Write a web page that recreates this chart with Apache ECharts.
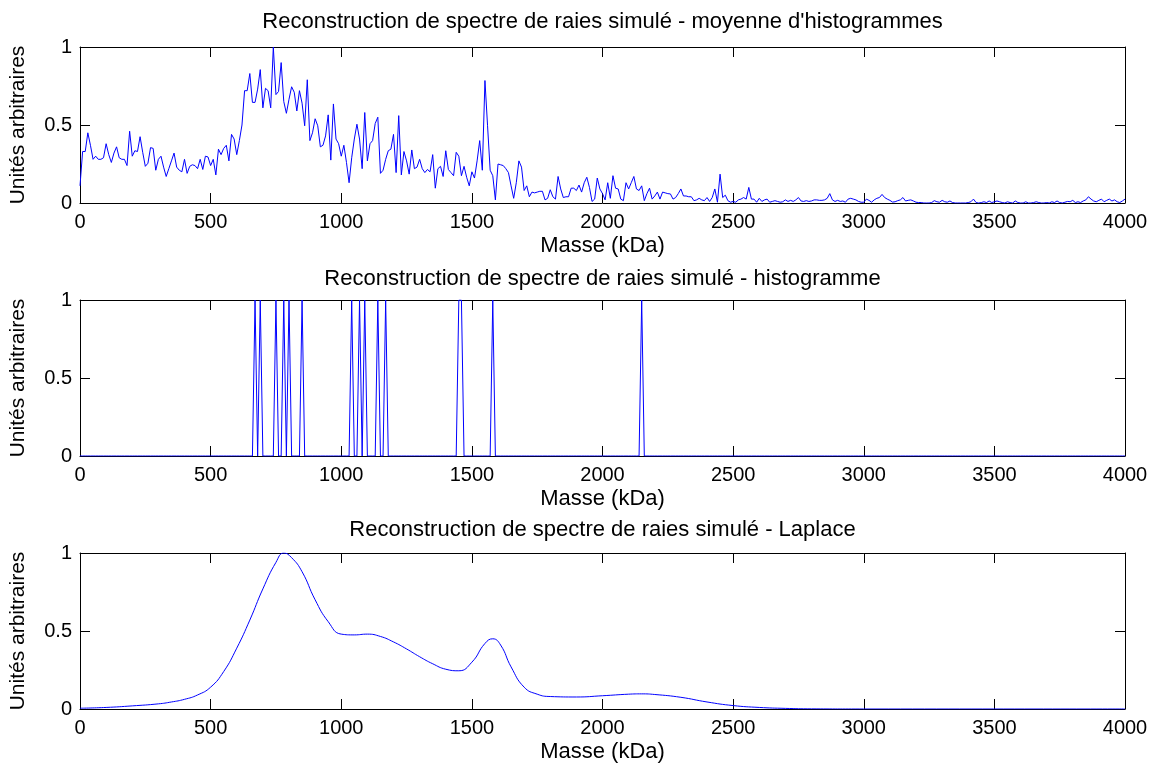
<!DOCTYPE html>
<html><head><meta charset="utf-8">
<script src="https://cdn.jsdelivr.net/npm/echarts@6/dist/echarts.min.js"></script>
<style>html,body{margin:0;padding:0;background:#fff}#c{width:1153px;height:767px}</style>
</head><body><div id="c"></div><script>
// ---- data ----
const panelTitles = [
  "Reconstruction de spectre de raies simulé - moyenne d'histogrammes",
  "Reconstruction de spectre de raies simulé - histogramme",
  "Reconstruction de spectre de raies simulé - Laplace"
];
const xAxisName = "Masse (kDa)";
const yAxisName = "Unités arbitraires";
const massMin = 0, massMax = 4000, massTickStep = 500;
const yTickStep = 0.5;
const histStep = 10; // kDa between histogram bins

// mean of histograms, one value per 10 kDa bin from 0 to 4000
const meanHistValues = [
  0.11,0.33,0.33,0.45,0.37,0.28,0.30,0.28,0.28,0.29,
  0.38,0.31,0.26,0.32,0.36,0.29,0.28,0.28,0.24,0.46,
  0.30,0.335,0.33,0.425,0.325,0.235,0.255,0.355,0.35,0.21,
  0.28,0.30,0.23,0.17,0.22,0.27,0.32,0.23,0.21,0.20,
  0.28,0.19,0.235,0.245,0.24,0.22,0.28,0.215,0.30,0.295,
  0.24,0.28,0.18,0.345,0.31,0.35,0.37,0.27,0.44,0.41,
  0.31,0.40,0.50,0.72,0.72,0.83,0.645,0.645,0.73,0.855,
  0.61,0.735,0.72,0.61,1.0,0.695,0.715,0.90,0.65,0.575,
  0.665,0.745,0.71,0.59,0.72,0.64,0.495,0.79,0.40,0.45,
  0.54,0.495,0.36,0.37,0.43,0.565,0.275,0.635,0.41,0.38,
  0.30,0.37,0.26,0.13,0.29,0.41,0.505,0.41,0.22,0.58,
  0.27,0.38,0.40,0.51,0.55,0.19,0.21,0.28,0.335,0.345,
  0.44,0.195,0.56,0.18,0.33,0.27,0.185,0.34,0.22,0.23,
  0.28,0.22,0.195,0.215,0.20,0.31,0.095,0.22,0.235,0.17,
  0.335,0.215,0.195,0.175,0.325,0.30,0.175,0.235,0.165,0.11,
  0.20,0.16,0.27,0.40,0.21,0.785,0.495,0.21,0.175,0.02,
  0.25,0.245,0.24,0.22,0.195,0.11,0.03,0.13,0.27,0.23,
  0.08,0.11,0.04,0.07,0.065,0.07,0.075,0.075,0.02,0.03,
  0.085,0.04,0.025,0.17,0.09,0.035,0.04,0.04,0.095,0.095,
  0.08,0.115,0.07,0.13,0.165,0.10,0.01,0.025,0.16,0.09,
  0.06,0.02,0.13,0.03,0.175,0.095,0.09,0.025,0.015,0.13,
  0.09,0.13,0.17,0.09,0.08,0.11,0.015,0.06,0.095,0.025,
  0.045,0.07,0.025,0.07,0.065,0.06,0.058,0.025,0.035,0.06,
  0.09,0.045,0.045,0.04,0.04,0.015,0.02,0.03,0.02,0.015,
  0.035,0.01,0.035,0.09,0.005,0.185,0.035,0.05,0.015,0.005,
  0.01,0.005,0.02,0.025,0.035,0.025,0.10,0.025,0.025,0.005,
  0.03,0.01,0.02,0.025,0.005,0.01,0.015,0.01,0.005,0.008,
  0.02,0.01,0.017,0.01,0.02,0.035,0.013,0.01,0.015,0.01,
  0.013,0.02,0.02,0.017,0.017,0.02,0.03,0.06,0.02,0.01,
  0.017,0.01,0.013,0.005,0.025,0.03,0.025,0.02,0.01,0.005,
  0.005,0.025,0.017,0.005,0.02,0.03,0.035,0.055,0.035,0.025,
  0.017,0.006,0.008,0.015,0.02,0.035,0.013,0.017,0.02,0.013,
  0.005,0.003,0.003,0,0,0,0.003,0.015,0.008,0.005,
  0.017,0.008,0.005,0.013,0.003,0,0,0,0,0,
  0.003,0.008,0.025,0.003,0,0.003,0.008,0.003,0.013,0.003,
  0.008,0.013,0.008,0.003,0,0.008,0.003,0,0.013,0.003,
  0,0,0.008,0,0,0.003,0.008,0.003,0,0,
  0.003,0,0.008,0.003,0.013,0.003,0,0.005,0.01,0.008,
  0.017,0.003,0.008,0.003,0.013,0.02,0.04,0.025,0.013,0.008,
  0.017,0.025,0.008,0.017,0.025,0.013,0.02,0.008,0.003,0.013,
  0.025
];

// single histogram: bins (kDa) that reach 1, all others are 0
const spikeMasses = [670,690,750,780,800,850,1040,1070,1090,1140,1170,1450,1460,1580,2150];
const spikeHeight = 1;

// Laplace reconstruction
const laplaceMasses = [
  0,100,200,300,350,400,450,500,550,600,
  650,700,750,780,810,850,900,950,1000,1050,
  1100,1150,1200,1250,1300,1350,1400,1450,1500,1550,
  1580,1610,1650,1700,1750,1800,1900,2000,2100,2150,
  2200,2300,2400,2500,2600,2700,2800,3000,4000];
const laplaceValues = [
  0.005,0.01,0.02,0.033,0.045,0.062,0.09,0.14,0.24,0.39,
  0.57,0.77,0.94,1.0,0.97,0.88,0.70,0.56,0.48,0.475,
  0.48,0.465,0.43,0.385,0.335,0.29,0.255,0.245,0.30,0.42,
  0.45,0.41,0.27,0.14,0.095,0.08,0.077,0.085,0.095,0.097,
  0.093,0.075,0.045,0.022,0.01,0.004,0.001,0,0];

// ---- build ----
const FONT = "'Liberation Sans', Arial, Helvetica, sans-serif";
const FS = 20, FS_TITLE = 22, FS_XNAME = 22, FS_YNAME = 21;
const gridTops = [47, 300, 553];
const titleTops = [11, 268, 519];
const gridH = 156;
const LEFT = 80, RIGHT = 28;
const plotCenter = LEFT + (1153 - LEFT - RIGHT) / 2;

const meanData = meanHistValues.map((v, i) => [i * histStep, v]);
const histData = meanHistValues.map((_, i) => {
  const m = i * histStep;
  return [m, spikeMasses.includes(m) ? spikeHeight : 0];
});
const lapData = laplaceMasses.map((m, i) => [m, laplaceValues[i]]);

const lineAxis = { show: true, onZero: false, lineStyle: { color: '#000', width: 1 } };
const tick = { show: true, inside: true, length: 10, lineStyle: { color: '#000', width: 1 } };
const label = { color: '#000', fontSize: FS, fontFamily: FONT, formatter: v => String(v) };

const grid = [], xAxis = [], yAxis = [], title = [], series = [];
const datas = [meanData, histData, lapData];
for (let k = 0; k < 3; k++) {
  grid.push({ left: LEFT, right: RIGHT, top: gridTops[k], height: gridH, show: false });
  title.push({
    text: panelTitles[k], left: plotCenter, top: titleTops[k], textAlign: 'center', padding: 0,
    textStyle: { color: '#000', fontSize: FS_TITLE, fontWeight: 'normal', fontFamily: FONT }
  });
  xAxis.push({
    type: 'value', gridIndex: k, position: 'bottom', min: massMin, max: massMax, interval: massTickStep,
    axisLine: lineAxis, axisTick: tick, splitLine: { show: false },
    axisLabel: Object.assign({ margin: 9, showMinLabel: true, showMaxLabel: true }, label),
    name: xAxisName, nameLocation: 'middle', nameGap: 32,
    nameTextStyle: { color: '#000', fontSize: FS_XNAME, fontFamily: FONT }
  });
  xAxis.push({
    type: 'value', gridIndex: k, position: 'top', min: massMin, max: massMax, interval: massTickStep,
    axisLine: lineAxis, axisTick: tick, splitLine: { show: false }, axisLabel: { show: false }
  });
  yAxis.push({
    type: 'value', gridIndex: k, position: 'left', min: 0, max: 1, interval: yTickStep,
    axisLine: lineAxis, axisTick: tick, splitLine: { show: false },
    axisLabel: Object.assign({ margin: 8 }, label),
    name: yAxisName, nameLocation: 'middle', nameGap: 51,
    nameTextStyle: { color: '#000', fontSize: FS_YNAME, fontFamily: FONT }
  });
  yAxis.push({
    type: 'value', gridIndex: k, position: 'right', min: 0, max: 1, interval: yTickStep,
    axisLine: lineAxis, axisTick: tick, splitLine: { show: false }, axisLabel: { show: false }
  });
  series.push({
    type: 'line', xAxisIndex: 2 * k, yAxisIndex: 2 * k, data: datas[k],
    showSymbol: false, symbol: 'none',
    smooth: k === 2 ? 0.5 : false,
    lineStyle: { color: '#0000ff', width: 1 }, itemStyle: { color: '#0000ff' },
    clip: true
  });
}

const chart = echarts.init(document.getElementById('c'), null, { renderer: 'canvas' });
chart.setOption({ animation: false, backgroundColor: '#fff', title, grid, xAxis, yAxis, series });
</script></body></html>
